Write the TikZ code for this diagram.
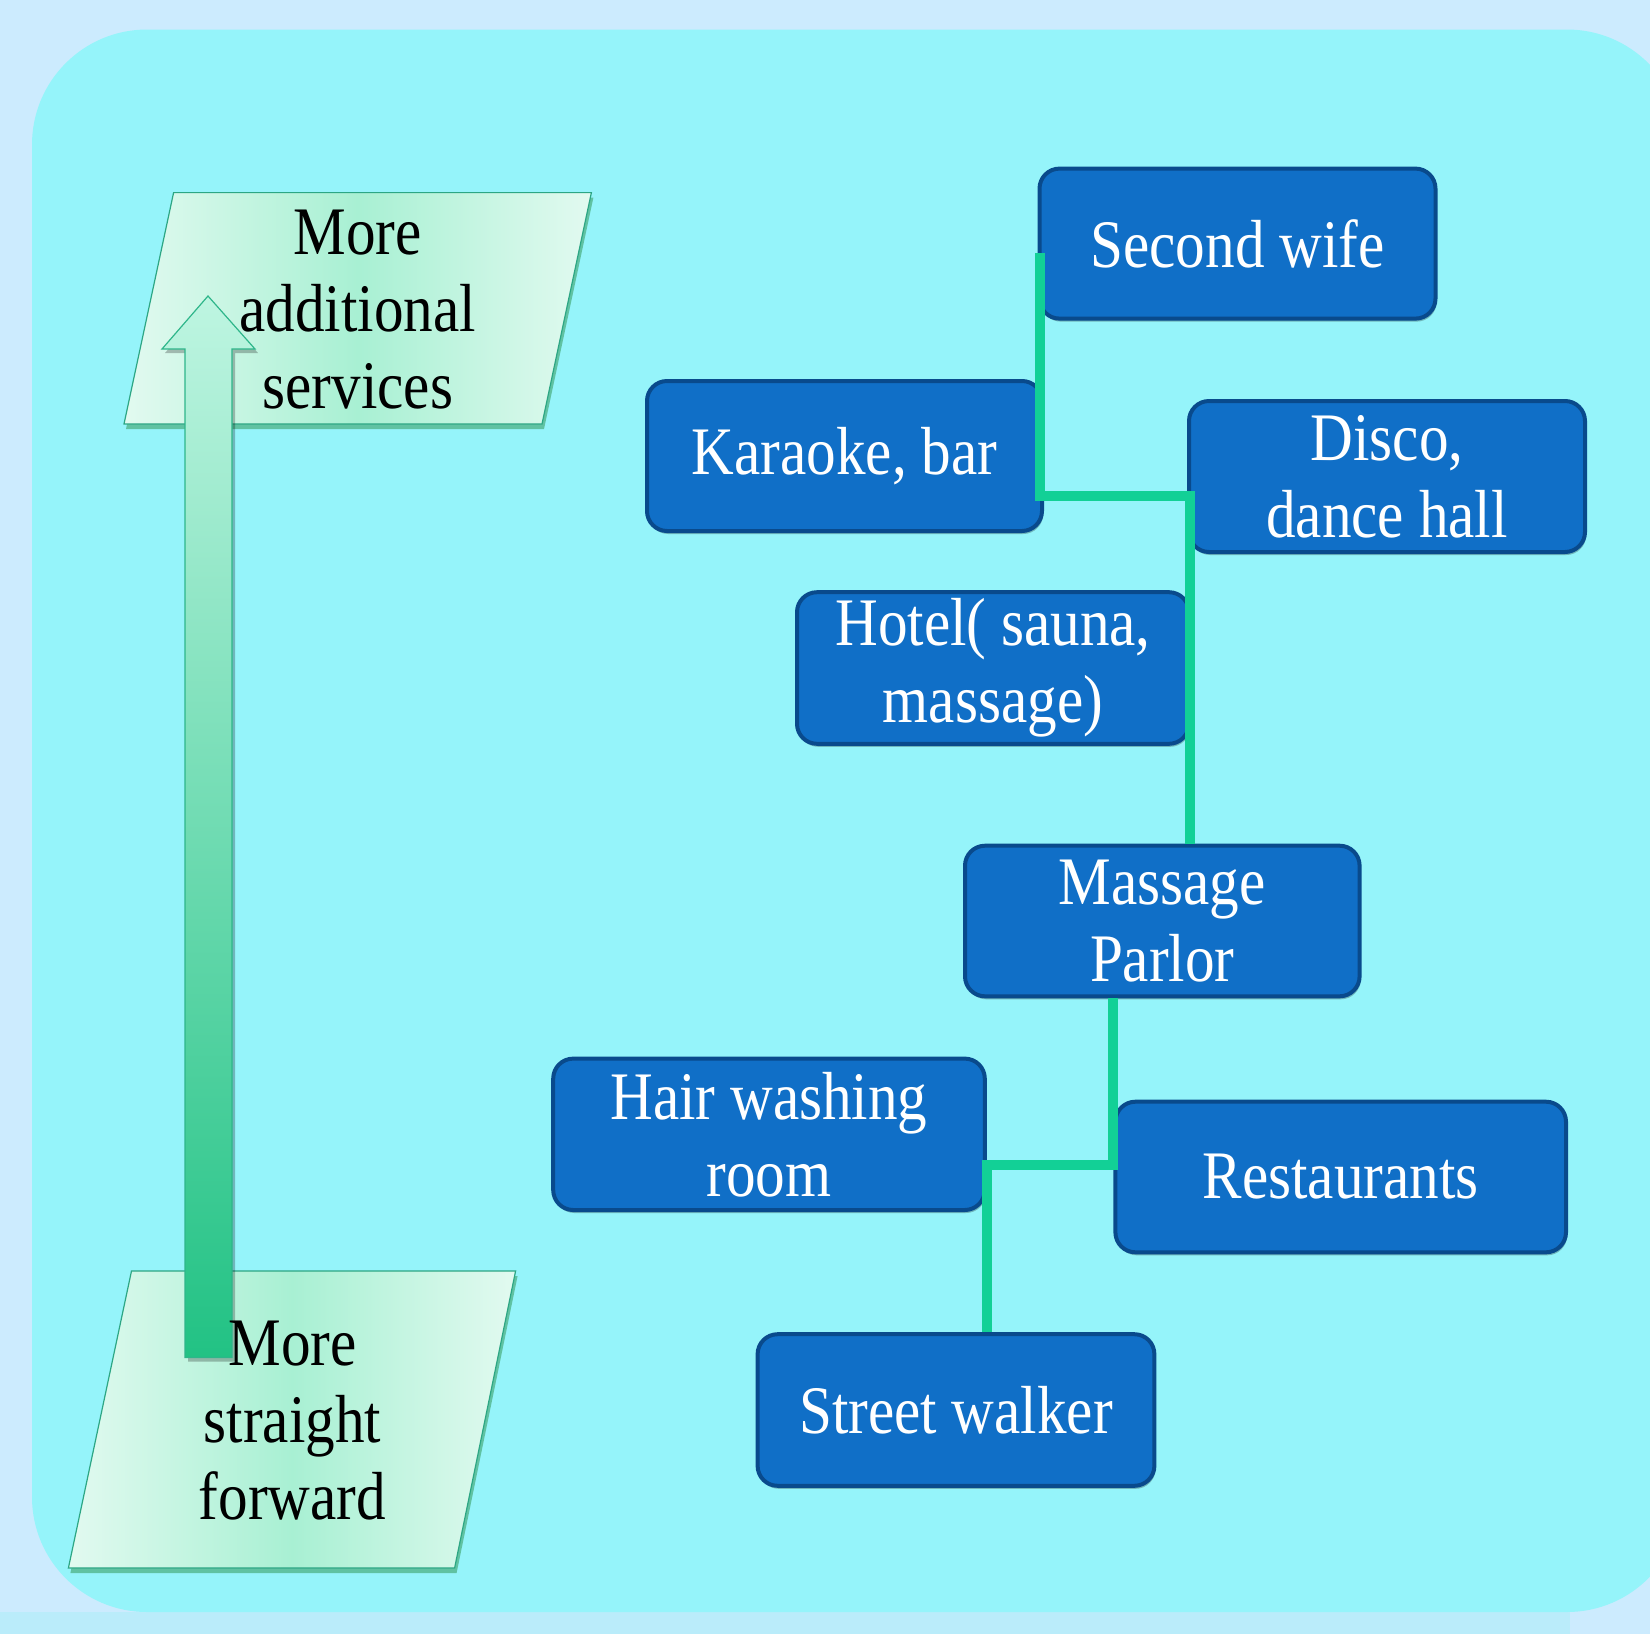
\documentclass[tikz,border=0pt]{standalone}
\usepackage{fontspec}
\setmainfont{Liberation Serif}[FakeStretch=0.87]
\usetikzlibrary{shadows}
\definecolor{outerbg}{RGB}{204,235,254}
\definecolor{panel}{RGB}{149,244,250}
\definecolor{band}{RGB}{186,236,250}
\definecolor{boxfill}{RGB}{16,111,199}
\definecolor{boxborder}{RGB}{9,74,140}
\definecolor{conncol}{RGB}{18,208,150}
\definecolor{plight}{RGB}{226,250,240}
\definecolor{pmid}{RGB}{168,240,211}
\definecolor{pborder}{RGB}{44,166,132}
\definecolor{arrtop}{RGB}{190,245,225}
\definecolor{arrbot}{RGB}{34,194,132}
\definecolor{arrline}{RGB}{46,182,138}
\newcommand\dgfont{\fontsize{34}{38.5}\selectfont}
\begin{document}
\begin{tikzpicture}[x=0.5pt,y=-0.5pt,
  svcbox/.style={draw=boxborder, line width=2pt, fill=boxfill, rounded corners=10pt,
    text=white, align=center, inner sep=0pt, font=\dgfont,
    drop shadow={shadow xshift=0.6pt, shadow yshift=-1.5pt, opacity=0.25, fill=black}},
  conn/.style={draw=conncol, line width=5pt, line join=miter},
  ptext/.style={align=center, inner sep=0pt, font=\dgfont, text=black},
  para/.style={draw=pborder, line width=0.6pt, left color=plight, right color=plight, middle color=pmid,
    drop shadow={shadow xshift=1pt, shadow yshift=-2.5pt, opacity=0.35, fill=black!60!green}},
  arrowbody/.style={draw=arrline, line width=0.6pt, top color=arrtop, bottom color=arrbot,
    drop shadow={shadow xshift=1.5pt, shadow yshift=-2pt, opacity=0.25, fill=black}}
]
\path[use as bounding box] (0,0) rectangle (1650,1634);
\clip (0,0) rectangle (1650,1634);
\fill[outerbg] (0,0) rectangle (1650,1634);
\fill[band] (0,1612) rectangle (1570,1634);
\fill[panel, rounded corners=57.5pt] (32,29.5) rectangle (1682,1612);

% parallelograms
\shadedraw[para] (173.6,192.6) -- (591.4,192.6) -- (542,424) -- (124,424) -- cycle;
\shadedraw[para] (131.5,1271) -- (515.6,1271) -- (454.6,1568) -- (68.4,1568) -- cycle;

% up arrow
\shadedraw[arrowbody] (185,1357.5) -- (185,349) -- (162,349) -- (208,296) -- (255,349)
  -- (232,349) -- (232,1357.5) -- cycle;

\node[ptext] (top) at (357.8,310) {More\\additional\\services};
\node[ptext] (bottom) at (292.5,1421) {More\\straight\\forward};

% boxes
\node[svcbox, minimum width=198pt, minimum height=75pt] (second) at (1237.5,243.6) {Second wife};
\node[svcbox, minimum width=197.5pt, minimum height=75pt] (karaoke) at (844.5,456) {Karaoke, bar};
\node[svcbox, minimum width=198pt, minimum height=75.5pt] (disco) at (1387,476.5) {Disco,\\dance hall};
\node[svcbox, minimum width=196pt, minimum height=75.8pt] (hotel) at (993,668) {Hotel( sauna,\\massage)};
\node[svcbox, minimum width=197.3pt, minimum height=75.3pt] (massage) at (1162.3,921) {Massage\\Parlor};
\node[svcbox, minimum width=215.8pt, minimum height=75.7pt] (hair) at (769,1134.3) {Hair washing\\room};
\node[svcbox, minimum width=225.3pt, minimum height=75.3pt] (rest) at (1340.7,1177) {Restaurants};
\node[svcbox, minimum width=198.4pt, minimum height=75.8pt] (street) at (956,1410) {Street walker};

% connectors
\coordinate (k1) at (0,496);
\coordinate (k2) at (0,1165);
\draw[conn] ([yshift=-4.5pt,xshift=1pt]second.west) -- ([xshift=1pt]second.west |- k1)
  -| ([xshift=1.5pt]disco.west |- massage.north);
\draw[conn] (rest.west |- massage.south) -- (rest.west |- k2) -| (hair.east |- street.north);
\end{tikzpicture}
\end{document}
